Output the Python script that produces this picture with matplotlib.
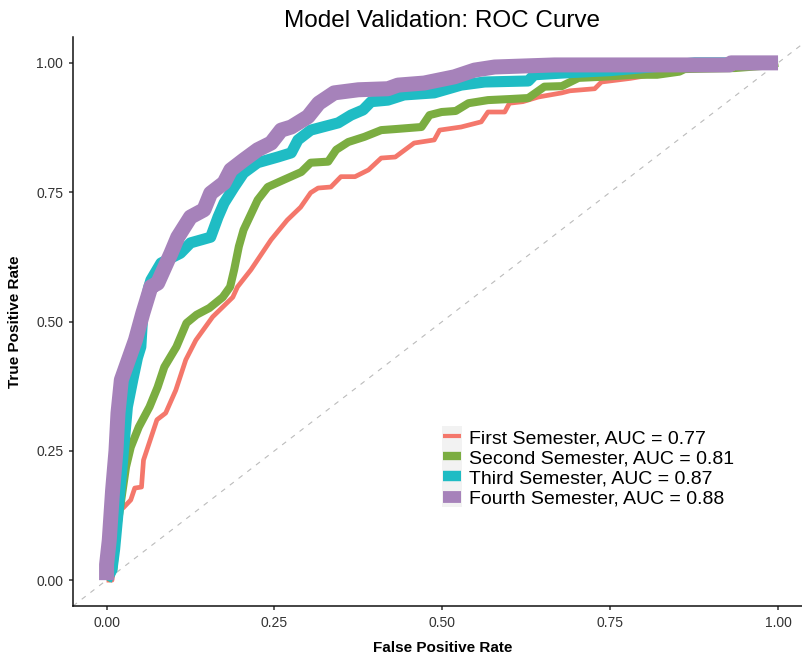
import matplotlib

matplotlib.use("Agg")
import matplotlib.pyplot as plt
from matplotlib.lines import Line2D
from matplotlib.patches import Rectangle
from matplotlib.legend_handler import HandlerLine2D

plt.rcParams["font.family"] = ["Liberation Sans", "DejaVu Sans"]

# ROC curves (false positive rate, true positive rate)
first_fpr = [0, 0.008, 0.012, 0.014, 0.025, 0.036, 0.042, 0.052, 0.055, 0.075,
             0.088, 0.103, 0.118, 0.133, 0.158, 0.188, 0.195, 0.215, 0.245,
             0.269, 0.289, 0.304, 0.315, 0.334, 0.349, 0.37, 0.39, 0.409, 0.43,
             0.458, 0.488, 0.496, 0.528, 0.54, 0.558, 0.568, 0.593, 0.60, 0.62,
             0.643, 0.678, 0.69, 0.727, 0.737, 0.78, 0.85, 0.93, 1.0]
first_tpr = [0, 0.0, 0.033, 0.13, 0.14, 0.155, 0.178, 0.18, 0.232, 0.31, 0.323,
             0.367, 0.426, 0.464, 0.509, 0.547, 0.567, 0.60, 0.658, 0.696, 0.721,
             0.749, 0.758, 0.76, 0.78, 0.78, 0.793, 0.816, 0.818, 0.845, 0.851,
             0.87, 0.876, 0.88, 0.886, 0.905, 0.905, 0.922, 0.925, 0.934, 0.942,
             0.946, 0.95, 0.963, 0.97, 0.985, 0.995, 1.0]

second_fpr = [0, 0.01, 0.016, 0.029, 0.036, 0.048, 0.064, 0.076, 0.086, 0.104,
              0.119, 0.134, 0.153, 0.173, 0.184, 0.19, 0.197, 0.204, 0.225, 0.24,
              0.264, 0.29, 0.304, 0.33, 0.342, 0.36, 0.384, 0.409, 0.43, 0.469,
              0.481, 0.499, 0.52, 0.539, 0.568, 0.60, 0.628, 0.652, 0.678, 0.703,
              0.737, 0.787, 0.82, 0.853, 0.861, 0.936, 0.976, 1.0]
second_tpr = [0, 0.02, 0.103, 0.219, 0.257, 0.296, 0.335, 0.373, 0.412, 0.451,
              0.497, 0.513, 0.526, 0.547, 0.567, 0.60, 0.645, 0.677, 0.735, 0.76,
              0.774, 0.789, 0.807, 0.809, 0.832, 0.847, 0.857, 0.87, 0.872, 0.876,
              0.899, 0.905, 0.907, 0.922, 0.928, 0.93, 0.932, 0.954, 0.955, 0.971,
              0.973, 0.977, 0.977, 0.983, 0.988, 0.99, 0.994, 1.0]

third_fpr = [0, 0.008, 0.012, 0.017, 0.023, 0.031, 0.039, 0.046, 0.051, 0.054,
             0.063, 0.066, 0.081, 0.11, 0.125, 0.155, 0.166, 0.175, 0.19, 0.204,
             0.225, 0.255, 0.275, 0.285, 0.304, 0.345, 0.364, 0.382, 0.394, 0.419,
             0.443, 0.488, 0.528, 0.563, 0.628, 0.637, 0.688, 0.75, 0.82, 0.876,
             1.0]
third_tpr = [0, 0.02, 0.06, 0.13, 0.219, 0.335, 0.387, 0.43, 0.451, 0.516,
             0.567, 0.58, 0.613, 0.632, 0.652, 0.663, 0.702, 0.729, 0.76, 0.787,
             0.807, 0.818, 0.826, 0.851, 0.87, 0.884, 0.899, 0.909, 0.925, 0.928,
             0.938, 0.942, 0.957, 0.963, 0.965, 0.977, 0.981, 0.985, 0.993, 1.0,
             1.0]

fourth_fpr = [0, 0.0, 0.004, 0.009, 0.014, 0.017, 0.022, 0.031, 0.043, 0.054,
              0.066, 0.076, 0.096, 0.106, 0.125, 0.145, 0.155, 0.175, 0.185,
              0.204, 0.225, 0.245, 0.26, 0.275, 0.3, 0.316, 0.339, 0.375, 0.419,
              0.434, 0.473, 0.518, 0.548, 0.578, 0.667, 0.928, 0.93, 1.0]
fourth_tpr = [0, 0.03, 0.077, 0.174, 0.25, 0.323, 0.387, 0.42, 0.464, 0.516,
              0.567, 0.574, 0.632, 0.663, 0.702, 0.716, 0.748, 0.768, 0.793,
              0.812, 0.832, 0.845, 0.87, 0.876, 0.896, 0.922, 0.942, 0.948, 0.95,
              0.957, 0.961, 0.973, 0.986, 0.992, 0.996, 0.996, 1.0, 1.0]

labels = ["First Semester, AUC = 0.77", "Second Semester, AUC = 0.81",
          "Third Semester, AUC = 0.87", "Fourth Semester, AUC = 0.88"]
colors = ["#F4776B", "#7BAD41", "#1FBCC4", "#A682BA"]
widths = [3.4, 5.8, 8.0, 10.8]
key_widths = [3.0, 6.0, 7.5, 8.5]


class KeyHandler(HandlerLine2D):
    # grey key background like ggplot legends
    def create_artists(self, legend, orig_handle, xdescent, ydescent,
                       width, height, fontsize, trans):
        bg = Rectangle((-xdescent - 1, -ydescent - 2), width + 2, height + 4,
                       facecolor="#F2F2F2", edgecolor="none", transform=trans)
        arts = super().create_artists(legend, orig_handle, xdescent, ydescent,
                                      width, height, fontsize, trans)
        return [bg] + arts


fig = plt.figure(figsize=(8.02, 6.56), dpi=100)
ax = fig.add_axes([73 / 802, 50 / 656, 738.6 / 802, 569 / 656])

ax.plot([-0.05, 1.05], [-0.05, 1.05], color="#BBBBBB", lw=0.8,
        linestyle=(0, (4.5, 5.4)), zorder=1)

curves = [(first_fpr, first_tpr), (second_fpr, second_tpr),
          (third_fpr, third_tpr), (fourth_fpr, fourth_tpr)]
for (fpr, tpr), c, w in zip(curves, colors, widths):
    ax.plot(fpr, tpr, color=c, lw=w, solid_capstyle="butt",
            solid_joinstyle="round", zorder=2)

ax.set_xlim(-0.05, 1.05)
ax.set_ylim(-0.05, 1.05)
ticks = [0, 0.25, 0.5, 0.75, 1.0]
ax.set_xticks(ticks)
ax.set_yticks(ticks)
ax.set_xticklabels(["0.00", "0.25", "0.50", "0.75", "1.00"])
ax.set_yticklabels(["0.00", "0.25", "0.50", "0.75", "1.00"])
ax.tick_params(labelsize=10, colors="#333333", length=3, width=1.1, pad=4)
for s in ["top", "right"]:
    ax.spines[s].set_visible(False)
for s in ["left", "bottom"]:
    ax.spines[s].set_linewidth(1.1)
    ax.spines[s].set_color("#111111")

ax.set_xlabel("False Positive Rate", fontsize=11, fontweight="bold", labelpad=8)
ax.set_ylabel("True Positive Rate", fontsize=11, fontweight="bold", labelpad=10)
ax.set_title("Model Validation: ROC Curve", fontsize=17.5, pad=7)

handles = [Line2D([], [], color=c, lw=w, solid_capstyle="butt")
           for c, w in zip(colors, key_widths)]
ax.legend(handles, labels, loc="upper left", bbox_to_anchor=(0.501, 0.311),
          frameon=False, fontsize=14, borderpad=0, borderaxespad=0,
          handlelength=0.9, handleheight=0.8, handletextpad=0.45,
          labelspacing=0.1, handler_map={Line2D: KeyHandler()})

fig.savefig("out.png", dpi=100)
